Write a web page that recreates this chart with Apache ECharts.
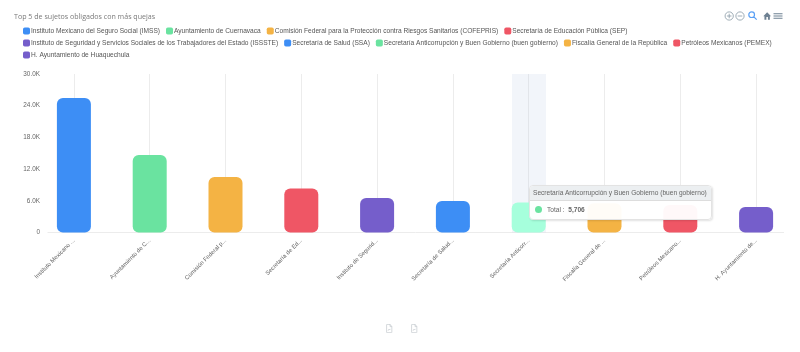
<!DOCTYPE html>
<html>
<head>
<meta charset="utf-8">
<style>
  html, body { margin: 0; padding: 0; background: #fff; }
  #chart { width: 800px; height: 352px; }
</style>
<script src="https://cdn.jsdelivr.net/npm/echarts@6/dist/echarts.min.js"></script>
</head>
<body>
<div id="chart"></div>
<script>
const titleText = 'Top 5 de sujetos obligados con más quejas'
const categories = [
  'Instituto Mexicano del Seguro Social (IMSS)',
  'Ayuntamiento de Cuernavaca',
  'Comisión Federal para la Protección contra Riesgos Sanitarios (COFEPRIS)',
  'Secretaría de Educación Pública (SEP)',
  'Instituto de Seguridad y Servicios Sociales de los Trabajadores del Estado (ISSSTE)',
  'Secretaría de Salud (SSA)',
  'Secretaría Anticorrupción y Buen Gobierno (buen gobierno)',
  'Fiscalía General de la República',
  'Petróleos Mexicanos (PEMEX)',
  'H. Ayuntamiento de Huaquechula'
]
const shortLabels = [
  'Instituto Mexicano ...',
  'Ayuntamiento de C...',
  'Comisión Federal p...',
  'Secretaría de Ed...',
  'Instituto de Segurid...',
  'Secretaría de Salud...',
  'Secretaría Anticorr...',
  'Fiscalía General de ...',
  'Petróleos Mexicano...',
  'H. Ayuntamiento de...'
]
const values = [25450, 14700, 10500, 8350, 6550, 6000, 5706, 5550, 5200, 4850]
const colors = ['#3d8ef5', '#6ae3a0', '#f4b344', '#ef5665', '#755ecb', '#3d8ef5', '#6ae3a0', '#f4b344', '#ef5665', '#755ecb']
const hoveredIndex = 6
const hoveredColor = '#97ffc8'

const iconGray = '#6e8192'
const docGray = '#bfc5ca'
const docPath = 'M3 1h11l6 6v15a1 1 0 0 1-1 1H3a1 1 0 0 1-1-1V2a1 1 0 0 1 1-1zM14 1v6h6M7 18l3-4 2 2 3-3'

// toolbar icons are plain svg images, graphic has no path type
function icon(d, x, y, w, h, fill, stroke, lineWidth) {
  const svg = '<svg xmlns="http://www.w3.org/2000/svg" viewBox="0 0 24 24" width="24" height="24" preserveAspectRatio="none">' +
    '<path d="' + d + '" fill="' + fill + '" stroke="' + stroke + '" stroke-width="' + lineWidth + '"/></svg>'
  return {
    type: 'image',
    silent: true,
    x: x,
    y: y,
    style: { image: 'data:image/svg+xml;charset=utf-8,' + encodeURIComponent(svg), width: w, height: h }
  }
}

let myChart = echarts.init(document.getElementById('chart'))

myChart.setOption({
  animation: false,
  title: {
    text: titleText,
    left: 14,
    top: 13,
    padding: 0,
    textStyle: { fontFamily: 'Open Sans', fontSize: 7.1, fontWeight: 'normal', color: '#7a7a7a' }
  },
  legend: {
    left: 23,
    top: 26,
    width: 765,
    padding: 0,
    itemGap: 2,
    itemWidth: 7,
    itemHeight: 7,
    icon: 'roundRect',
    textStyle: { fontFamily: 'Liberation Sans', fontSize: 6.6, color: '#555', lineHeight: 10, padding: [0, 4, 0, -4] }
  },
  grid: { left: 36, right: 6, top: 74, height: 158.6 },
  tooltip: {
    trigger: 'axis',
    alwaysShowContent: true,
    transitionDuration: 0,
    padding: 0,
    borderWidth: 0,
    backgroundColor: 'transparent',
    extraCssText: 'box-shadow:none;',
    axisPointer: {
      type: 'line',
      z: 0,
      lineStyle: { type: 'solid', width: 34, color: 'rgba(176,190,225,0.16)' }
    },
    position: [529, 185],
    formatter: function () {
      return '<div style="width:183px;background:rgba(255,255,255,0.96);border:1px solid #e3e3e3;border-radius:4px;box-shadow:1px 1px 2px rgba(0,0,0,.12);font-family:Liberation Sans;font-size:6.6px;color:#666;box-sizing:border-box;">' +
        '<div style="background:#eceff1;border-bottom:1px solid #ddd;height:14px;line-height:14px;padding-left:3px;white-space:nowrap;border-radius:4px 4px 0 0;">' + categories[hoveredIndex] + '</div>' +
        '<div style="height:18px;line-height:18px;padding-left:5px;"><span style="display:inline-block;width:7px;height:7px;border-radius:50%;background:' + colors[hoveredIndex] + ';margin-right:5px;vertical-align:-1px;"></span>Total :&nbsp; <b>' + values[hoveredIndex].toLocaleString('en-US') + '</b></div></div>'
    }
  },
  xAxis: {
    type: 'category',
    data: shortLabels,
    axisLine: { show: false },
    axisTick: { alignWithLabel: true, length: 4, lineStyle: { color: '#eeeeee' } },
    splitLine: { show: true, alignWithLabel: true, lineStyle: { color: '#ececec' } },
    axisLabel: { interval: 0, rotate: 45, margin: 7, fontFamily: 'Liberation Sans', fontSize: 5.9, color: '#666' }
  },
  yAxis: {
    type: 'value',
    min: 0,
    max: 30000,
    interval: 6000,
    axisLine: { show: false },
    axisTick: { show: false },
    splitLine: { show: false },
    axisLabel: {
      margin: -4,
      fontFamily: 'Liberation Sans',
      fontSize: 6.4,
      color: '#666',
      padding: [0, 0, 3, 0],
      formatter: v => v === 0 ? '0' : (v / 1000).toFixed(1) + 'K'
    }
  },
  series: categories.map((name, i) => ({
    name: name,
    type: 'bar',
    stack: 'total',
    barWidth: 34,
    itemStyle: { color: colors[i], borderRadius: 6 },
    data: categories.map((c, j) => {
      if (j !== i) return null
      return i === hoveredIndex ? { value: values[j], itemStyle: { color: hoveredColor } } : values[j]
    })
  })),
  graphic: [
    { type: 'line', silent: true, shape: { x1: 47.5, y1: 232.5, x2: 784, y2: 232.5 }, style: { stroke: '#ececec', lineWidth: 1 } },
    icon('M12 3a9 9 0 1 0 0 18a9 9 0 1 0 0-18zM12 7v10M7 12h10', 723.7, 10.5, 11, 11, 'none', '#8c9ba8', 1.8),
    icon('M12 3a9 9 0 1 0 0 18a9 9 0 1 0 0-18zM7 12h10', 734.5, 10.5, 11, 11, 'none', '#8c9ba8', 1.8),
    icon('M9.5 3a6.5 6.5 0 1 0 0 13a6.5 6.5 0 1 0 0-13zM14.5 14.5L21 21', 747.5, 10.5, 10.5, 10.5, 'none', '#5aa0f5', 2.8),
    icon('M10 20v-6h4v6h5v-8h3L12 3L2 12h3v8z', 762.5, 11, 9.3, 10.4, iconGray, 'none', 0),
    icon('M3 6h18v2H3zM3 11h18v2H3zM3 16h18v2H3z', 772, 10.5, 12, 11, iconGray, 'none', 0),
    icon(docPath, 386, 324, 7, 9, 'none', docGray, 2),
    icon(docPath, 411, 324, 7, 9, 'none', docGray, 2)
  ]
})

myChart.dispatchAction({ type: 'showTip', seriesIndex: hoveredIndex, dataIndex: hoveredIndex })
</script>
</body>
</html>
